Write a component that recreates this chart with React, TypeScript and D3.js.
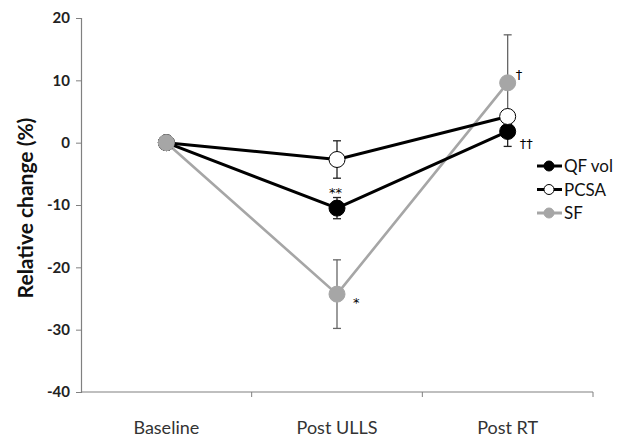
import React, { useEffect, useRef } from 'react';
import * as d3 from 'd3';

const categories = ['Baseline', 'Post ULLS', 'Post RT'];
const yTicks = [20, 10, 0, -10, -20, -30, -40];

const qfVol = [0, -10.5, 1.8];
const qfVolErr = [0, 1.7, 2.4];
const pcsa = [0, -2.7, 4.2];
const pcsaErr = [0, 3.0, 0];
const sf = [0, -24.3, 9.6];
const sfErr = [0, 5.5, 7.7];

const seriesNames = ['QF vol', 'PCSA', 'SF'];

const App = () => {
  const ref = useRef<SVGSVGElement>(null);

  useEffect(() => {
    const svg = d3.select(ref.current);
    svg.selectAll('*').remove();
    const left = 81, right = 593, top = 18, bottom = 392;
    const font = 'Lato, "Open Sans", sans-serif';

    const x = d3.scaleBand().domain(categories).range([left, right]);
    const y = d3.scaleLinear().domain([-40, 20]).range([bottom, top]);

    // y axis
    const ya = svg.append('g').attr('transform', `translate(${left},0)`)
      .call(d3.axisLeft(y).tickValues(yTicks).tickFormat(d => String(d)).tickSize(5).tickPadding(6));
    ya.select('.domain').attr('stroke', '#808080').attr('stroke-width', 1.2);
    ya.selectAll('line').attr('stroke', '#808080');
    ya.selectAll('text').attr('font-size', 15).attr('font-family', font)
      .attr('font-weight', 'bold').attr('fill', '#222');

    // x axis
    const xa = svg.append('g').attr('transform', `translate(0,${bottom})`);
    xa.append('line').attr('x1', left).attr('x2', right).attr('stroke', '#808080').attr('stroke-width', 1.2);
    categories.forEach((c, i) => {
      const bx = (x(c) as number) + x.bandwidth();
      xa.append('line').attr('x1', bx).attr('x2', bx).attr('y1', 0).attr('y2', 5).attr('stroke', '#808080');
      xa.append('text').attr('x', (x(c) as number) + x.bandwidth() / 2).attr('y', 42)
        .attr('text-anchor', 'middle').attr('font-size', 18).attr('font-family', font)
        .attr('fill', '#333').text(c);
    });

    svg.append('text')
      .attr('transform', `translate(33,${(top + bottom) / 2 + 3}) rotate(-90)`)
      .attr('text-anchor', 'middle').attr('font-size', 21).attr('font-weight', 'bold')
      .attr('font-family', font).attr('fill', '#111').text('Relative change (%)');

    const cx = (i: number) => (x(categories[i]) as number) + x.bandwidth() / 2;
    const line = d3.line<number>().x((d, i) => cx(i)).y(d => y(d));

    const series = [
      { vals: sf, err: sfErr, stroke: '#a6a6a6', fill: '#a6a6a6', errColor: '#666' },
      { vals: qfVol, err: qfVolErr, stroke: '#000', fill: '#000', errColor: '#222' },
      { vals: pcsa, err: pcsaErr, stroke: '#000', fill: '#fff', errColor: '#222' },
    ];

    // error bars
    series.forEach(s => {
      s.vals.forEach((v, i) => {
        if (!s.err[i]) return;
        const g = svg.append('g').attr('stroke', s.errColor).attr('stroke-width', 1.3);
        g.append('line').attr('x1', cx(i)).attr('x2', cx(i)).attr('y1', y(v + s.err[i])).attr('y2', y(v - s.err[i]));
        [v + s.err[i], v - s.err[i]].forEach(e => {
          g.append('line').attr('x1', cx(i) - 4).attr('x2', cx(i) + 4).attr('y1', y(e)).attr('y2', y(e));
        });
      });
    });

    series.forEach(s => {
      svg.append('path').attr('d', line(s.vals)).attr('fill', 'none')
        .attr('stroke', s.stroke).attr('stroke-width', s.stroke === '#000' ? 3 : 2.6);
    });
    // markers: draw so that baseline shows gray on top
    [series[1], series[2], series[0]].forEach(s => {
      s.vals.forEach((v, i) => {
        svg.append('circle').attr('cx', cx(i)).attr('cy', y(v)).attr('r', 8)
          .attr('fill', s.fill).attr('stroke', s.fill === '#fff' ? '#000' : s.fill)
          .attr('stroke-width', 1);
      });
    });

    // significance marks
    const mark = (tx: number, ty: number, t: string) =>
      svg.append('text').attr('x', tx).attr('y', ty).attr('font-size', 13)
        .attr('font-family', '"DejaVu Sans", sans-serif').attr('fill', '#000').text(t);
    mark(cx(1) - 8, y(qfVol[1] + qfVolErr[1]) - 1, '**');
    mark(cx(1) + 16, y(sf[1]) + 13, '*');
    mark(cx(2) + 8, y(sf[2]) - 4, '†');
    mark(cx(2) + 12, y(qfVol[2]) + 17, '††');

    // legend
    const legendFill = ['#000', '#fff', '#a6a6a6'];
    const legendStroke = ['#000', '#000', '#a6a6a6'];
    seriesNames.forEach((n, i) => {
      const ly = 166 + i * 23.5;
      const g = svg.append('g');
      g.append('line').attr('x1', 537).attr('x2', 562).attr('y1', ly).attr('y2', ly)
        .attr('stroke', legendStroke[i]).attr('stroke-width', 3);
      g.append('circle').attr('cx', 549).attr('cy', ly).attr('r', 5)
        .attr('fill', legendFill[i]).attr('stroke', legendStroke[i]).attr('stroke-width', 1);
      g.append('text').attr('x', 564).attr('y', ly + 6).attr('font-size', 17)
        .attr('font-family', font).attr('fill', '#111').text(n);
    });
  }, []);

  return (
    <svg ref={ref} width={617} height={439}
      style={{ position: 'absolute', left: 0, top: 0, background: '#fff' }} />
  );
};

export default App;
